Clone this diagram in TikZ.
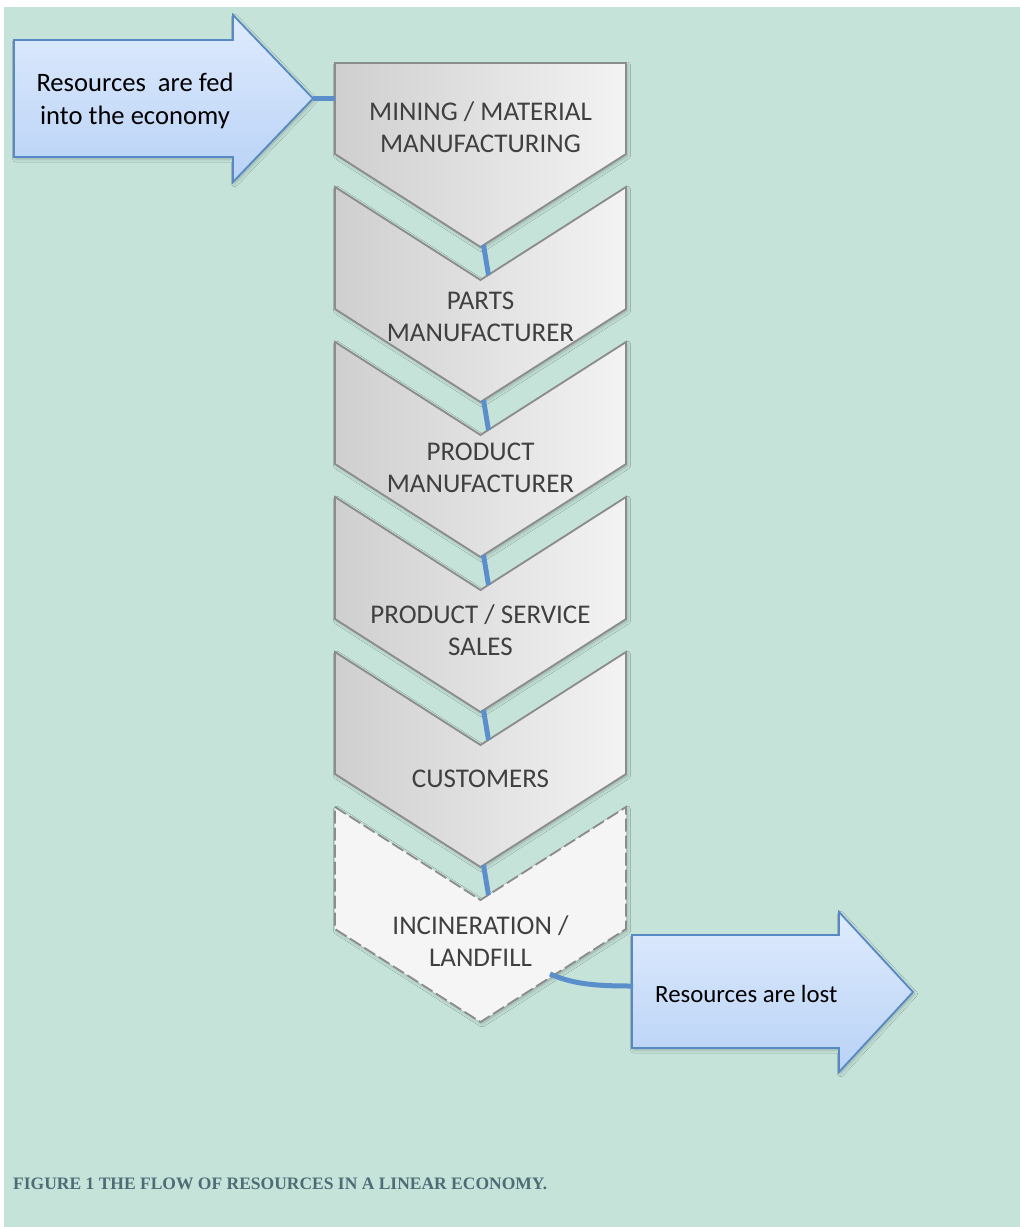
\documentclass[tikz,border=0pt]{standalone}
\usepackage{fontspec}
\setmainfont{Carlito}
\newfontfamily\capfont{Liberation Serif}
\usetikzlibrary{shadows.blur}
\definecolor{bgmint}{RGB}{197,227,217}
\definecolor{chevborder}{RGB}{140,140,140}
\definecolor{chevleft}{RGB}{207,207,207}
\definecolor{chevright}{RGB}{243,243,243}
\definecolor{arrowtop}{RGB}{223,235,253}
\definecolor{arrowbot}{RGB}{184,210,246}
\definecolor{arrowedge}{RGB}{88,137,196}
\definecolor{linkblue}{RGB}{91,143,203}
\definecolor{txtgray}{RGB}{64,64,64}
\definecolor{capcol}{RGB}{78,108,118}
\definecolor{lastfill}{RGB}{245,245,245}
\newcommand\mychev[3]{%
  \path[#3] (335,#2) -- (480.5,#2+93) -- (626,#2) -- (626,#2+122) -- (480.5,#2+215) -- (335,#2+122) -- cycle;
  \coordinate (notch#1) at (480.5,#2+93);
  \coordinate (tip#1) at (480.5,#2+215);
}
\begin{document}
\begin{tikzpicture}[x=1pt,y=-1pt,
  chevbox/.style={draw=chevborder,line width=1.8pt,line join=miter,shading=axis,left color=chevleft,right color=chevright,
    blur shadow={shadow xshift=1.5pt,shadow yshift=-2pt,shadow blur radius=3pt,shadow opacity=22}},
  lastbox/.style={draw=chevborder,line width=1.8pt,dash pattern=on 13pt off 4pt,fill=lastfill,
    blur shadow={shadow xshift=1.5pt,shadow yshift=-2pt,shadow blur radius=3pt,shadow opacity=22}},
  arrowbox/.style={draw=arrowedge,line width=1.8pt,line join=miter,shading=axis,top color=arrowtop,bottom color=arrowbot,
    blur shadow={shadow xshift=1.5pt,shadow yshift=-2pt,shadow blur radius=3pt,shadow opacity=22}},
  chevtext/.style={align=center,text=txtgray,font=\fontsize{27}{32}\selectfont,inner sep=0pt},
  arrowtext/.style={align=center,text=black,font=\fontsize{26.6}{33}\selectfont,inner sep=0pt},
  link/.style={draw=linkblue,line width=5pt}]
\useasboundingbox (0,0) rectangle (1020,1227);
\fill[bgmint] (4,7) rectangle (1020,1227);

% first chevron (flat top)
\path[chevbox] (335,63) -- (626,63) -- (626,154) -- (480.5,247) -- (335,154) -- cycle;
\coordinate (tip1) at (480.5,247);
\coordinate (in1) at (335,98.5);
\mychev{2}{187}{chevbox}
\mychev{3}{342}{chevbox}
\mychev{4}{497}{chevbox}
\mychev{5}{652}{chevbox}
\mychev{6}{807}{lastbox}

\node[chevtext] (t1) at (480.5,127) {MINING / MATERIAL\\MANUFACTURING};
\node[chevtext] (t2) at (480.5,317) {PARTS\\MANUFACTURER};
\node[chevtext] (t3) at (480.5,468) {PRODUCT\\MANUFACTURER};
\node[chevtext] (t4) at (480.5,630) {PRODUCT / SERVICE\\SALES};
\node[chevtext] (t5) at (480.5,779) {CUSTOMERS};
\node[chevtext] (t6) at (480.5,941) {INCINERATION /\\LANDFILL};

% left arrow
\path[arrowbox] (14,40) -- (233,40) -- (233,15) -- (313,98.5) -- (233,182) -- (233,157) -- (14,157) -- cycle;
\coordinate (ltip) at (313,98.5);
\node[arrowtext] (la) at (135,101) {Resources\ \ are fed\\into the economy};

% right arrow
\path[arrowbox] (632,935) -- (839,935) -- (839,912) -- (913,992) -- (839,1072) -- (839,1048) -- (632,1048) -- cycle;
\coordinate (rin) at (633,986);
\node[arrowtext,anchor=west,font=\fontsize{24.8}{30}\selectfont] (ra) at (655,994) {Resources are lost};
\coordinate (out6) at (550,974);

% connectors
\draw[link] (ltip) -- (in1);
\foreach \a/\b in {1/2,2/3,3/4,4/5,5/6}{
  \draw[link] ([shift={(3,-2)}]tip\a) -- ([shift={(8,-5)}]notch\b);
}
\draw[link] (out6) .. controls (575,985) and (600,986) .. (rin);

% caption
\node[anchor=base west,inner sep=0pt,text=capcol,font=\capfont\bfseries\fontsize{17.5}{20}\selectfont] (cap) at (13,1189) {FIGURE 1 THE FLOW OF RESOURCES IN A LINEAR ECONOMY.};
\end{tikzpicture}
\end{document}
